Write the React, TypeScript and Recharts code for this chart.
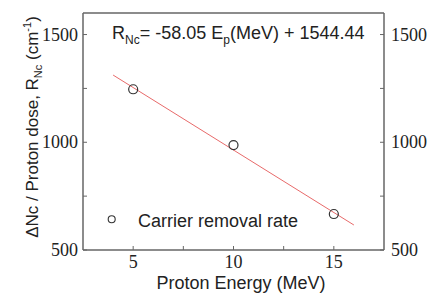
import React from 'react';
import { ScatterChart, Scatter, XAxis, YAxis } from 'recharts';

document.body.style.margin = '0';

const energy = [5, 10, 15];
const removalRate = [1246, 987, 667];
const fitEnergy = [4, 16];
const fitRate = [1312, 616];
const xTicks = [5, 7.5, 10, 12.5, 15];
const yTicks = [500, 750, 1000, 1250, 1500];
const xLabels = [5, 10, 15];
const yLabels = [500, 1000, 1500];

const points = energy.map((e, i) => ({ x: e, y: removalRate[i] }));
const fitLine = fitEnergy.map((e, i) => ({ x: e, y: fitRate[i] }));

const SANS = '"Liberation Sans", Arial, sans-serif';
const SERIF = '"Liberation Serif", "Times New Roman", serif';
const FRAME = '#666';

const BottomTick = ({ x, y, payload }: any) =>
  xLabels.includes(payload.value) ? (
    <text x={x} y={y} dy={13} textAnchor="middle" fontSize={18} fontFamily={SERIF} fill="#222">
      {payload.value}
    </text>
  ) : <g />;

const LeftTick = ({ x, y, payload }: any) =>
  yLabels.includes(payload.value) ? (
    <text x={x} y={y} dy={6} textAnchor="end" fontSize={18} fontFamily={SERIF} fill="#222">
      {payload.value}
    </text>
  ) : <g />;

const RightTick = ({ x, y, payload }: any) =>
  yLabels.includes(payload.value) ? (
    <text x={x} y={y} dy={6} textAnchor="start" fontSize={18} fontFamily={SERIF} fill="#222">
      {payload.value}
    </text>
  ) : <g />;

const YTitle = () => (
  <text x={38} y={127} transform="rotate(-90 38 127)" textAnchor="middle" fontSize={17} fontFamily={SANS} fill="#222">
    ΔNc / Proton dose, R<tspan fontSize={11} dy={4}>Nc</tspan>
    <tspan dy={-4}>{' (cm'}</tspan>
    <tspan fontSize={11} dy={-7}>-1</tspan>
    <tspan dy={7}>)</tspan>
  </text>
);

const XTitle = () => (
  <text x={241} y={289} textAnchor="middle" fontSize={18} fontFamily={SANS} fill="#222">
    Proton Energy (MeV)
  </text>
);

const OpenCircle = (p: any) => (
  <circle cx={p.cx} cy={p.cy} r={4.5} fill="none" stroke="#333" strokeWidth={1.2} />
);

export default function App() {
  return (
    <div style={{ position: 'relative', width: 427, height: 294, background: '#fff' }}>
      <ScatterChart width={427} height={294} margin={{ top: 12, right: 42, bottom: 43, left: 82 }}>
        <XAxis
          xAxisId={0}
          type="number"
          dataKey="x"
          domain={[2.5, 17.5]}
          ticks={xTicks}
          height={1}
          tickSize={-4}
          tickMargin={9}
          tick={BottomTick}
          axisLine={{ stroke: FRAME, strokeWidth: 1.5 }}
          tickLine={{ stroke: FRAME, strokeWidth: 1 }}
          label={() => <XTitle />}
        />
        <XAxis
          xAxisId="top"
          orientation="top"
          type="number"
          dataKey="x"
          domain={[2.5, 17.5]}
          height={1}
          tick={false}
          tickLine={false}
          axisLine={{ stroke: FRAME, strokeWidth: 1.5 }}
        />
        <YAxis
          yAxisId={0}
          type="number"
          dataKey="y"
          domain={[500, 1600]}
          ticks={yTicks}
          width={1}
          tickSize={-4}
          tickMargin={9}
          tick={LeftTick}
          axisLine={{ stroke: FRAME, strokeWidth: 1.5 }}
          tickLine={{ stroke: FRAME, strokeWidth: 1 }}
          label={() => <YTitle />}
        />
        <YAxis
          yAxisId="right"
          orientation="right"
          type="number"
          dataKey="y"
          domain={[500, 1600]}
          ticks={yTicks}
          width={1}
          tickSize={-4}
          tickMargin={11}
          tick={RightTick}
          axisLine={{ stroke: FRAME, strokeWidth: 1.5 }}
          tickLine={{ stroke: FRAME, strokeWidth: 1 }}
        />
        <Scatter
          data={fitLine}
          xAxisId="top"
          yAxisId="right"
          line={{ stroke: '#e86a6a', strokeWidth: 1 }}
          shape={() => <g />}
          isAnimationActive={false}
        />
        <Scatter data={points} shape={OpenCircle} isAnimationActive={false} />
      </ScatterChart>
      <svg width={427} height={294} style={{ position: 'absolute', left: 0, top: 0, pointerEvents: 'none' }}>
        <text x={112} y={39} fontSize={18} fontFamily={SANS} fill="#222">
          R<tspan fontSize={12} dy={5}>Nc</tspan>
          <tspan dy={-5}>= -58.05 E</tspan>
          <tspan fontSize={12} dy={5}>p</tspan>
          <tspan dy={-5}>(MeV) + 1544.44</tspan>
        </text>
        <circle cx={111.7} cy={219.3} r={3.5} fill="none" stroke="#333" strokeWidth={1.1} />
        <text x={138} y={226.5} fontSize={18} fontFamily={SANS} fill="#222">
          Carrier removal rate
        </text>
      </svg>
    </div>
  );
}
